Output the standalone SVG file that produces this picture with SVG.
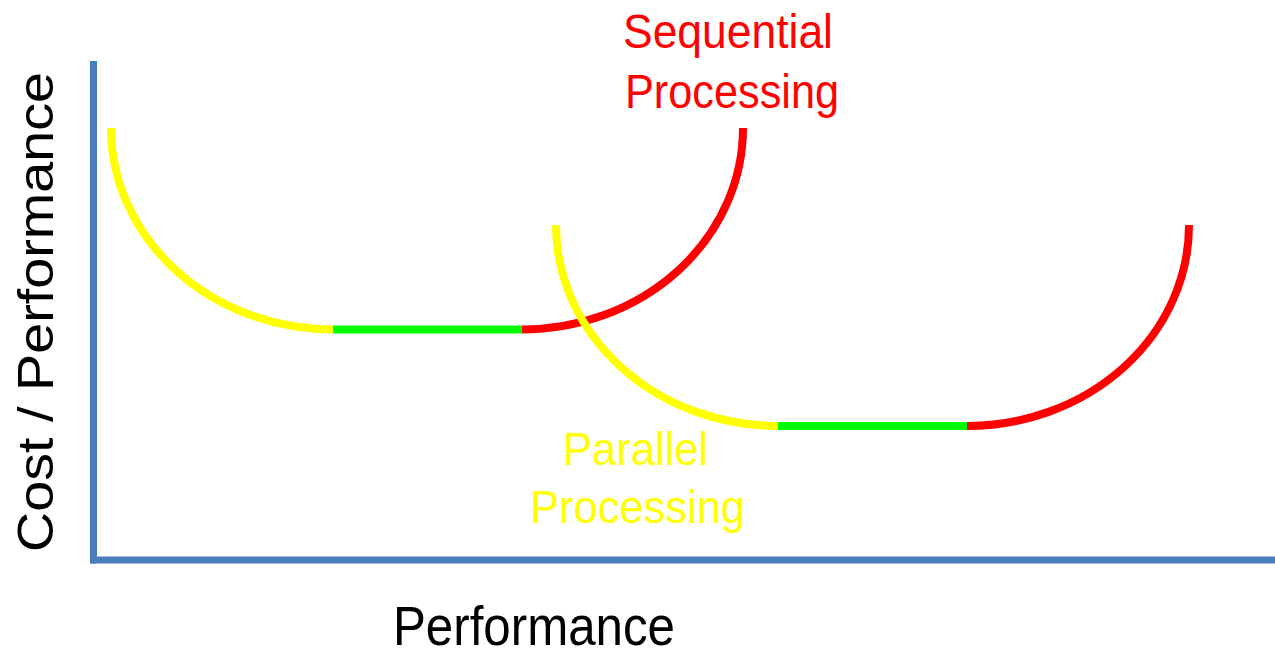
<svg xmlns="http://www.w3.org/2000/svg" width="1275" height="650" viewBox="0 0 1275 650">
<style>
.axis{stroke:#4a7ebb;stroke-width:7;fill:none}
.c{fill:none;stroke-width:8;stroke-linecap:butt}
.y{stroke:#ffff00}
.g{stroke:#00ff00}
.r{stroke:#ff0000}
text{font-family:"Liberation Sans",Arial,sans-serif}
.lbl{font-size:48px}
.ax{font-size:56px;fill:#000}
</style>
<rect width="1275" height="650" fill="#fff"/>
<g id="axes">
<line class="axis" x1="93.5" y1="61" x2="93.5" y2="563.5"/>
<line class="axis" x1="90" y1="560" x2="1275" y2="560"/>
</g>
<g id="sequential-curve">
<path class="c y" d="M111,128 A222,201.5 0 0 0 333,329.5"/>
<path class="c g" d="M333,329.5 H522"/>
<path class="c r" d="M522,329.5 A221,201.5 0 0 0 743,128"/>
</g>
<g id="parallel-curve">
<path class="c y" d="M556,225 A222,201 0 0 0 778,426"/>
<path class="c g" d="M778,426 H967"/>
<path class="c r" d="M967,426 A222,201 0 0 0 1189,225"/>
</g>
<g id="sequential-label" fill="#ff0000">
<text class="lbl" x="623" y="48" textLength="210" lengthAdjust="spacingAndGlyphs">Sequential</text>
<text class="lbl" x="625" y="108" textLength="214" lengthAdjust="spacingAndGlyphs">Processing</text>
</g>
<g id="parallel-label" fill="#ffff00">
<text class="lbl" x="563" y="465" font-size="46" style="font-size:46px" textLength="145" lengthAdjust="spacingAndGlyphs">Parallel</text>
<text class="lbl" x="530" y="523" style="font-size:46px" textLength="215" lengthAdjust="spacingAndGlyphs">Processing</text>
</g>
<g id="x-axis-label">
<text class="ax" x="393" y="645" textLength="282" lengthAdjust="spacingAndGlyphs">Performance</text>
</g>
<g id="y-axis-label">
<text class="ax" transform="translate(53,552) scale(0.9,1) rotate(-90)" x="0" y="0" textLength="480" lengthAdjust="spacingAndGlyphs">Cost / Performance</text>
</g>
</svg>
